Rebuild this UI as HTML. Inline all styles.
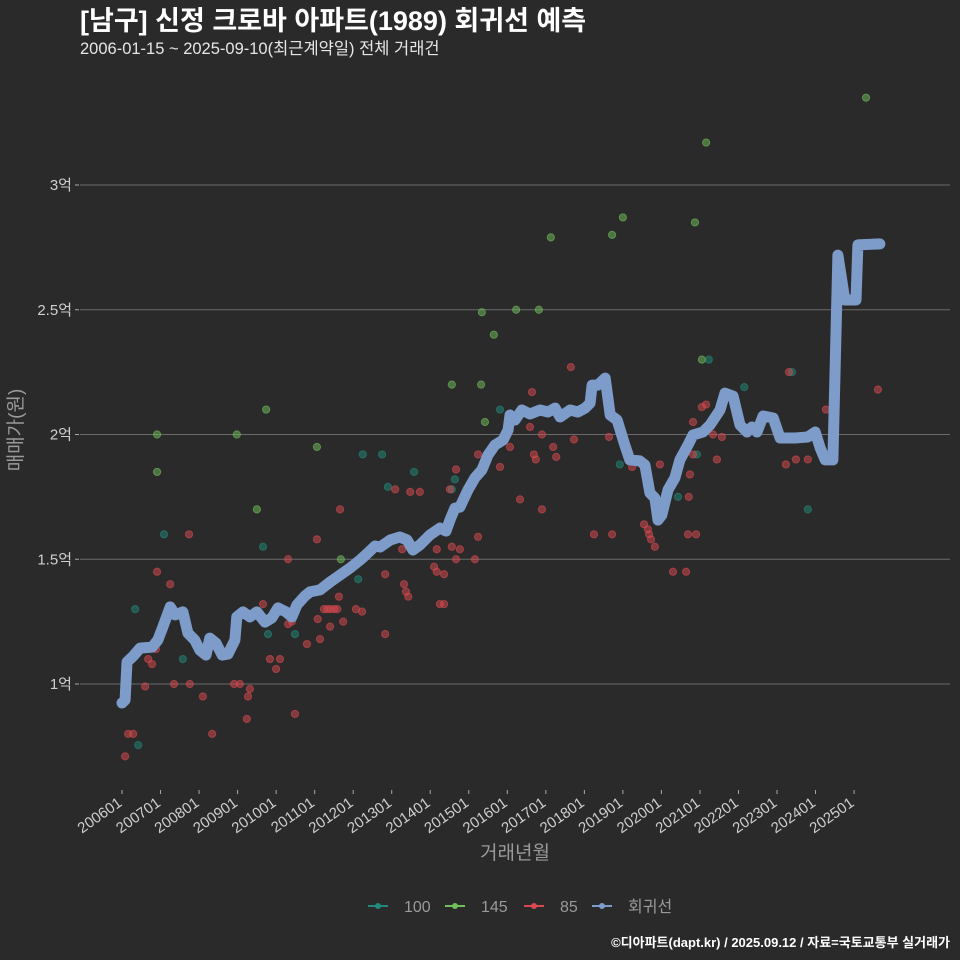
<!DOCTYPE html>
<html><head><meta charset="utf-8">
<style>
html,body{margin:0;padding:0;background:#2b2a2b;}
body{width:960px;height:960px;overflow:hidden;font-family:"Liberation Sans","Noto Sans CJK KR",sans-serif;}
svg{display:block;}
svg text{font-family:"Liberation Sans","Noto Sans CJK KR",sans-serif;}
</style></head>
<body>
<svg id="chart" width="960" height="960" viewBox="0 0 960 960" xmlns="http://www.w3.org/2000/svg">
<rect x="0" y="0" width="960" height="960" fill="#2b2a2b"/>
<text x="80" y="30" fill="#ffffff" font-size="27" font-weight="bold">[남구] 신정 크로바 아파트(1989) 회귀선 예측</text>
<text x="80" y="54" fill="#e6e6e6" font-size="16.5">2006-01-15 ~ 2025-09-10(최근계약일) 전체 거래건</text>
<g id="grid"></g>
<g id="yaxis"></g>
<g id="xaxis"></g>
<g id="points"></g>
<g id="line"></g>
<text x="515" y="859" fill="#9a9a9a" font-size="19" text-anchor="middle">거래년월</text>
<text transform="translate(22,430) rotate(-90)" fill="#9a9a9a" font-size="19" text-anchor="middle">매매가(원)</text>
<g id="legend"></g>
<text x="950" y="947" fill="#ffffff" font-size="13" font-weight="bold" text-anchor="end">©디아파트(dapt.kr) / 2025.09.12 / 자료=국토교통부 실거래가</text>
</svg>
<script>
// ---- data ----
const yTicks = [1, 1.5, 2, 2.5, 3];
const yTickLabels = ["1억", "1.5억", "2억", "2.5억", "3억"];
const xTickYears = [2006,2007,2008,2009,2010,2011,2012,2013,2014,2015,2016,2017,2018,2019,2020,2021,2022,2023,2024,2025];
const xTickLabels = ["200601","200701","200801","200901","201001","201101","201201","201301","201401","201501","201601","201701","201801","201901","202001","202101","202201","202301","202401","202501"];

const lineX = [2006.00,2006.08,2006.13,2006.29,2006.47,2006.78,2006.93,2007.06,2007.25,2007.38,2007.58,2007.71,2007.89,2008.02,2008.18,2008.28,2008.44,2008.60,2008.75,2008.93,2008.98,2009.14,2009.32,2009.50,2009.71,2009.89,2010.05,2010.26,2010.41,2010.54,2010.75,2010.88,2011.14,2011.40,2011.66,2011.92,2012.18,2012.38,2012.57,2012.70,2012.96,2013.21,2013.40,2013.55,2013.73,2013.99,2014.25,2014.41,2014.51,2014.64,2014.77,2014.98,2015.16,2015.34,2015.50,2015.68,2015.89,2016.02,2016.07,2016.20,2016.38,2016.59,2016.85,2017.06,2017.24,2017.37,2017.63,2017.83,2018.02,2018.15,2018.20,2018.35,2018.54,2018.67,2018.85,2019.05,2019.18,2019.44,2019.57,2019.70,2019.83,2019.91,2020.01,2020.17,2020.35,2020.48,2020.69,2020.82,2021.08,2021.26,2021.52,2021.65,2021.86,2022.04,2022.22,2022.35,2022.48,2022.64,2022.90,2023.08,2023.47,2023.80,2023.99,2024.12,2024.25,2024.45,2024.58,2024.76,2025.05,2025.10,2025.67];
const lineY = [0.924,0.936,1.088,1.112,1.144,1.148,1.176,1.228,1.309,1.277,1.289,1.204,1.176,1.136,1.116,1.184,1.164,1.116,1.120,1.176,1.269,1.289,1.269,1.289,1.248,1.265,1.305,1.289,1.269,1.317,1.353,1.369,1.377,1.409,1.437,1.465,1.497,1.525,1.553,1.549,1.577,1.589,1.577,1.537,1.557,1.597,1.625,1.613,1.657,1.705,1.709,1.778,1.826,1.858,1.918,1.958,1.978,2.018,2.078,2.058,2.098,2.082,2.098,2.090,2.106,2.070,2.098,2.090,2.106,2.126,2.198,2.198,2.226,2.078,2.058,1.958,1.898,1.894,1.878,1.766,1.745,1.657,1.677,1.778,1.826,1.898,1.958,1.998,2.010,2.038,2.098,2.166,2.154,2.038,2.010,2.030,2.010,2.074,2.066,1.986,1.986,1.990,2.010,1.946,1.898,1.898,2.719,2.539,2.539,2.760,2.764];

const g145X = [2006.91,2006.91,2008.98,2009.74,2009.50,2011.06,2011.68,2014.56,2015.32,2015.42,2015.34,2015.65,2016.23,2016.82,2017.13,2018.72,2019.00,2021.16,2020.87,2021.05,2025.31];
const g145Y = [2.00,1.85,2.00,2.10,1.70,1.95,1.50,2.20,2.20,2.05,2.49,2.40,2.50,2.50,2.79,2.80,2.87,3.17,2.85,2.30,3.35];

const g100X = [2006.34,2006.42,2007.09,2007.58,2009.66,2009.79,2010.49,2012.13,2012.25,2012.75,2012.90,2013.58,2014.56,2014.64,2015.81,2018.92,2020.43,2021.23,2022.15,2023.39,2023.80,2020.92];
const g100Y = [1.30,0.755,1.60,1.10,1.55,1.20,1.20,1.42,1.92,1.92,1.79,1.85,1.78,1.82,2.10,1.88,1.75,2.30,2.19,2.25,1.70,1.92];

const g85X = [2006.08,2006.16,2006.29,2006.60,2006.68,2006.78,2006.88,2006.91,2007.25,2007.35,2007.74,2007.76,2008.10,2008.34,2008.91,2009.06,2009.24,2009.27,2009.32,2009.66,2009.84,2010.10,2010.00,2010.31,2010.31,2010.41,2010.49,2010.80,2011.06,2011.08,2011.14,2011.24,2011.33,2011.41,2011.51,2011.59,2011.40,2011.63,2011.66,2011.74,2012.07,2012.23,2012.83,2012.83,2013.09,2013.27,2013.32,2013.37,2013.43,2013.48,2013.73,2014.17,2014.10,2014.17,2014.25,2014.36,2014.36,2014.51,2014.56,2014.67,2014.67,2014.77,2015.16,2015.24,2015.24,2015.81,2016.07,2016.33,2016.59,2016.69,2016.74,2016.64,2016.90,2016.90,2017.19,2017.27,2017.65,2017.73,2018.25,2018.64,2018.72,2019.24,2019.55,2019.65,2019.68,2019.73,2019.83,2019.96,2020.30,2020.64,2020.69,2020.90,2020.71,2020.74,2020.82,2020.82,2021.05,2021.16,2021.34,2021.44,2021.57,2023.23,2023.31,2023.49,2023.80,2024.27,2025.62];
const g85Y = [0.71,0.80,0.80,0.99,1.10,1.08,1.14,1.45,1.40,1.00,1.60,1.00,0.95,0.80,1.00,1.00,0.86,0.95,0.98,1.32,1.10,1.10,1.06,1.50,1.24,1.25,0.88,1.16,1.58,1.26,1.18,1.30,1.30,1.30,1.30,1.30,1.23,1.35,1.70,1.25,1.30,1.29,1.44,1.20,1.78,1.54,1.40,1.37,1.35,1.77,1.77,1.54,1.47,1.45,1.32,1.32,1.44,1.78,1.55,1.86,1.50,1.54,1.50,1.59,1.92,1.87,1.95,1.74,2.03,1.92,1.90,2.17,2.00,1.70,1.95,1.91,2.27,1.98,1.60,1.99,1.60,1.87,1.64,1.62,1.60,1.58,1.55,1.88,1.45,1.45,1.60,1.60,1.75,1.84,1.92,2.05,2.11,2.12,2.00,1.90,1.99,1.88,2.25,1.90,1.90,2.10,2.18];

// ---- axis functions ----
const xScale = yr => 122 + (yr - 2006) * 38.53;
const yScale = v => 684 - (v - 1) * 249.5;
const NS = "http://www.w3.org/2000/svg";
function mk(tag, attrs, parent){const e=document.createElementNS(NS,tag);for(const k in attrs)e.setAttribute(k,attrs[k]);parent.appendChild(e);return e;}

const grid = document.getElementById('grid');
const yaxis = document.getElementById('yaxis');
yTicks.forEach((v,i)=>{
  const l = mk('line',{x1:80,x2:950,y1:yScale(v),y2:yScale(v),stroke:'#6a6a6a','stroke-width':1},grid);
  
  
  const tk = mk('line',{x1:75,x2:79,y1:yScale(v),y2:yScale(v),stroke:'#aaaaaa','stroke-width':1},yaxis);
  
  
  const t = mk('text',{x:72,y:yScale(v)+5,fill:'#cfcfcf','font-size':15,'text-anchor':'end'},yaxis);
  t.textContent = yTickLabels[i];
  
  
});
const xaxis = document.getElementById('xaxis');
xTickYears.forEach((yr,i)=>{
  const x = xScale(yr);
  const tk = mk('line',{x1:x,x2:x,y1:790,y2:794,stroke:'#aaaaaa','stroke-width':1},xaxis);
  
  
  const t = mk('text',{transform:`translate(${x+1},${805}) rotate(-35)`,fill:'#cfcfcf','font-size':15,'text-anchor':'end'},xaxis);
  t.textContent = xTickLabels[i];
  
  
});

const pts = document.getElementById('points');
function drawSeries(xs, ys, color, name){
  xs.forEach((yr,i)=>{
    const c = mk('circle',{cx:xScale(yr),cy:yScale(ys[i]),r:3.6,fill:color,'fill-opacity':0.5,stroke:color,'stroke-opacity':0.6,'stroke-width':1},pts);
    
    
  });
}
drawSeries(g100X, g100Y, '#1f8a7a', 'point-100');
drawSeries(g145X, g145Y, '#6fbf5a', 'point-145');
drawSeries(g85X, g85Y, '#d9494f', 'point-85');

const lineG = document.getElementById('line');
const d = lineX.map((yr,i)=>(i?'L':'M')+xScale(yr).toFixed(1)+','+yScale(lineY[i]).toFixed(1)).join(' ');
const path = mk('path',{d:d,fill:'none',stroke:'#7d9cc9','stroke-width':11,'stroke-linejoin':'round','stroke-linecap':'round'},lineG);



// legend
const legend = document.getElementById('legend');
const legItems = [["100","#1f8a7a",368],["145","#6fbf5a",445],["85","#d9494f",524],["회귀선","#7d9cc9",592]];
legItems.forEach(([lab,col,x])=>{
  const g = mk('g',{},legend);
  
  
  mk('line',{x1:x,x2:x+20,y1:906,y2:906,stroke:col,'stroke-width':2},g);
  mk('circle',{cx:x+10,cy:906,r:3,fill:col},g);
  const t = mk('text',{x:x+36,y:912,fill:'#9a9a9a','font-size':16},g);
  t.textContent = lab;
});
</script>
</body></html>
